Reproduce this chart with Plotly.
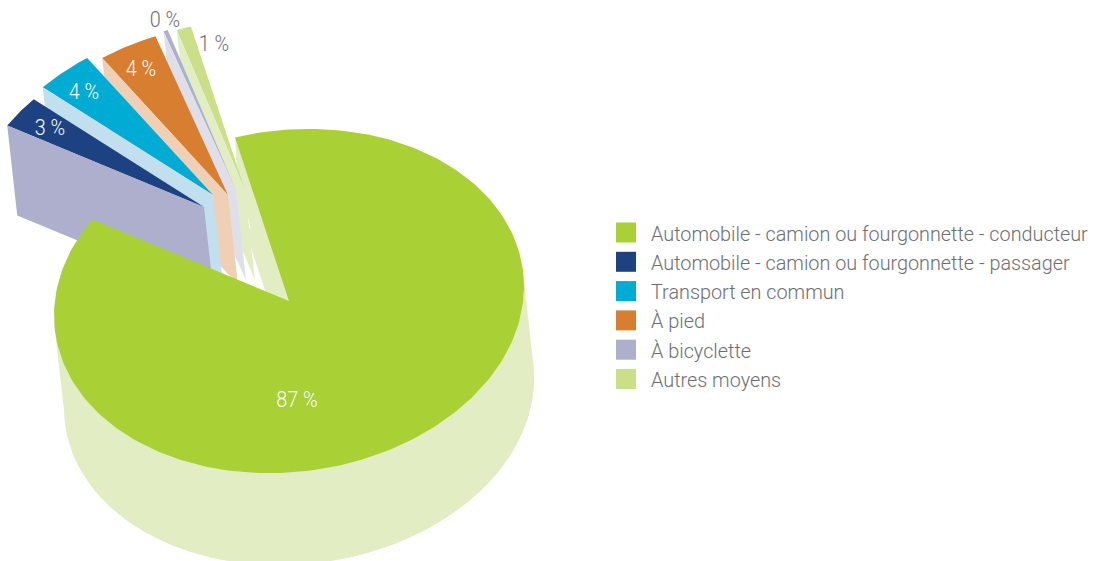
import math
import plotly.graph_objects as go

categories = ["Automobile - camion ou fourgonnette - conducteur",
              "Automobile - camion ou fourgonnette - passager",
              "Transport en commun", "À pied", "À bicyclette", "Autres moyens"]
values = [87.9, 2.9, 3.9, 4.0, 0.3, 1.0]
labels = ["87 %", "3 %", "4 %", "4 %", "0 %", "1 %"]
top_colors = ["#a9d034", "#1c4282", "#00acd4", "#d77e30", "#aeafcd", "#cbdf88"]
side_colors = ["#e2edc3", "#aeafcd", "#c2dfed", "#f0d0b4", "#dfdfea", "#e2edc3"]
label_colors = ["white", "white", "white", "white", "#6d6e71", "#6d6e71"]

# projection of the pie (pixel space): slightly tilted ellipse
START = -13.3
RX, RY, TILT = 235, 171.5, -14.5
MAIN_DEPTH = (10, 92)
DEPTH = (10, 90)
APEX = [(289, 301), (204, 207), (213, 195), (228, 195), (236, 190), (245, 190)]
LABEL_POS = [(297, 401), (50, 129), (84, 93), (141, 70), (165, 21), (214, 45)]
FONT = "Roboto, Liberation Sans, sans-serif"
GREY = "#6d6e71"
LABEL_SQUEEZE = 0.90
LEGEND_SQUEEZE = 0.99


def rim(i, a):
    t = math.radians(a)
    s, c = math.sin(t), math.cos(t)
    return APEX[i][0] + RX * s, APEX[i][1] + TILT * s - RY * c


def arc(i, a0, a1, n=90):
    return [rim(i, a0 + (a1 - a0) * k / n) for k in range(n + 1)]


def poly(pts, color):
    return go.Scatter(x=[p[0] for p in pts], y=[p[1] for p in pts], mode="lines",
                      fill="toself", fillcolor=color, line=dict(width=0),
                      hoverinfo="skip", showlegend=False)


def shift(p, d=DEPTH):
    return p[0] + d[0], p[1] + d[1]


# angular span of every slice
spans = []
a = START
for v in values:
    spans.append((a, a + v * 3.6))
    a += v * 3.6

fig = go.Figure()

# main slice body, behind everything
a0, a1 = spans[0]
low = arc(0, a0, a1, 240)
dx, dy = MAIN_DEPTH
tan = math.degrees(math.atan2(RX * dy - TILT * dx, RY * dx))
band = arc(0, tan, tan + 180, 180)
fig.add_trace(poly([shift(p, MAIN_DEPTH) for p in low] + [shift(APEX[0], MAIN_DEPTH)], side_colors[0]))
fig.add_trace(poly(band + [shift(p, MAIN_DEPTH) for p in band[::-1]], side_colors[0]))

# pale sliver seen through the gap beside the main slice
A = APEX[5]
gap_pts = [(APEX[0][0], APEX[0][1] - 1), rim(0, a0), (A[0] - 8, A[1] - 20), (A[0] + 20, A[1] + 100)]
fig.add_trace(poly(gap_pts, side_colors[5]))

# exploded slices, back to front
for i in range(5, 0, -1):
    s0, s1 = spans[i]
    rim_pts = arc(i, s0, s1, 24)
    fig.add_trace(poly(rim_pts + [APEX[i]], top_colors[i]))
    L = rim_pts[0]
    fig.add_trace(poly([L, APEX[i], shift(APEX[i]), shift(L)], side_colors[i]))

# main slice top
fig.add_trace(poly(low + [APEX[0]], top_colors[0]))

# percentage labels
fig.add_trace(go.Scatter(
    x=[p[0] for p in LABEL_POS], y=[p[1] for p in LABEL_POS], mode="text", text=labels,
    textposition="middle center", hoverinfo="skip", showlegend=False,
    textfont=dict(family=FONT, size=22, color=label_colors, weight=300)))

# legend
LEG_X, LEG_TX, LEG_Y, LEG_STEP = 626, 651, 232.5, 29.3
leg_y = [LEG_Y + k * LEG_STEP for k in range(len(categories))]
fig.add_trace(go.Scatter(
    x=[LEG_X] * len(categories), y=leg_y,
    mode="markers", marker=dict(symbol="square", size=20, color=top_colors, line=dict(width=0)),
    hoverinfo="skip", showlegend=False))
fig.add_trace(go.Scatter(
    x=[LEG_TX] * len(categories), y=[v + 3 for v in leg_y], mode="text", text=categories,
    textposition="middle right", hoverinfo="skip", showlegend=False,
    textfont=dict(family=FONT, size=20, color=GREY, weight=300)))

fig.update_layout(
    width=1095, height=561,
    margin=dict(l=0, r=0, t=0, b=0), paper_bgcolor="white", plot_bgcolor="white",
    xaxis=dict(range=[0, 1095], visible=False, fixedrange=True),
    yaxis=dict(range=[561, 0], visible=False, fixedrange=True),
    showlegend=False,
)
post = """
document.documentElement.style.overflow='hidden';
document.body.style.margin='0';
document.querySelectorAll('.textpoint text').forEach(function(t){
  var f=t.textContent.indexOf('%%')>=0?%s:%s;
  t.setAttribute('textLength',(t.getComputedTextLength()*f).toFixed(1));
  t.setAttribute('lengthAdjust','spacingAndGlyphs');
});
""" % (LABEL_SQUEEZE, LEGEND_SQUEEZE)
fig.write_html("out.html", post_script=post, config={"displayModeBar": False})
